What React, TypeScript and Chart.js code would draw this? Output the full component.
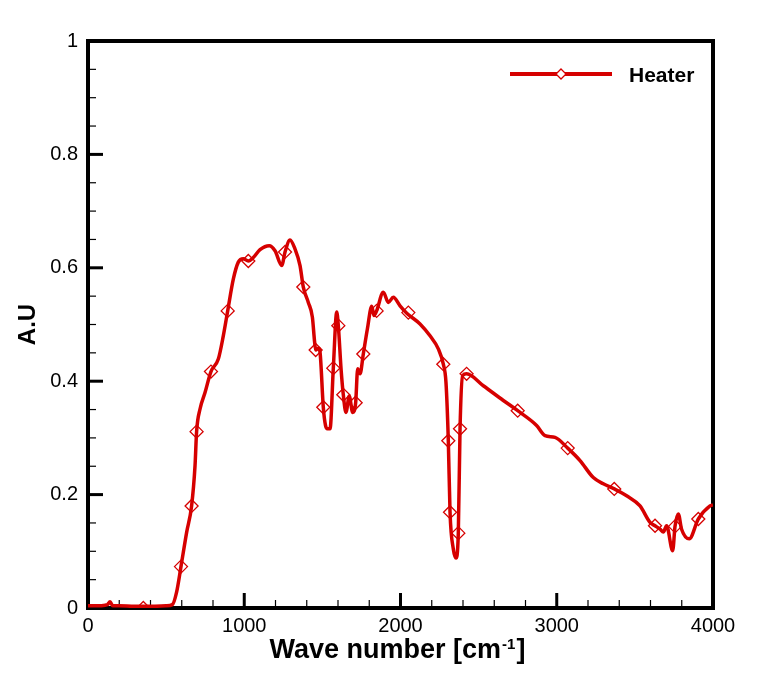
import React, { useEffect, useRef } from "react";
import { Chart, registerables } from "chart.js";

Chart.register(...registerables);

// Curve: wave number [cm^-1] and absorbance (A.U)
const waveNumber = [
  0, 60, 110, 125, 141, 158, 200, 300, 400, 500, 540, 567, 595, 631, 663, 685, 695, 717, 749, 787,
  834, 866, 894, 930, 962, 994, 1026, 1058, 1101, 1160, 1197, 1240, 1261, 1293, 1325, 1357, 1378,
  1410, 1436, 1450, 1457, 1475, 1485, 1506, 1520, 1532, 1549, 1570, 1592, 1602, 1620, 1634, 1651,
  1672, 1694, 1713, 1726, 1741, 1762, 1788, 1816, 1830, 1847, 1890, 1922, 1954, 1997, 2040, 2125,
  2189, 2242, 2274, 2291, 2306, 2317, 2338, 2355, 2370, 2381, 2398, 2423, 2530, 2658, 2750, 2871,
  2925, 2989, 3070, 3149, 3234, 3298, 3368, 3447, 3533, 3597, 3629, 3661, 3682, 3703, 3742, 3757,
  3778, 3799, 3848, 3906, 3981, 4000,
];
const absorbance = [
  0.004, 0.004, 0.005, 0.006, 0.011, 0.004, 0.004, 0.003, 0.003, 0.004, 0.006, 0.028, 0.073, 0.133,
  0.18, 0.251, 0.311, 0.351, 0.38, 0.417, 0.439, 0.48, 0.524, 0.58, 0.61, 0.616, 0.612, 0.618, 0.632,
  0.639, 0.63, 0.604, 0.628, 0.649, 0.633, 0.604, 0.566, 0.539, 0.513, 0.47, 0.455, 0.458, 0.451,
  0.354, 0.322, 0.316, 0.316, 0.423, 0.522, 0.498, 0.42, 0.376, 0.345, 0.374, 0.345, 0.362, 0.422,
  0.413, 0.448, 0.492, 0.532, 0.516, 0.524, 0.557, 0.539, 0.548, 0.533, 0.52, 0.501, 0.48, 0.457,
  0.43, 0.398, 0.295, 0.169, 0.104, 0.088, 0.132, 0.316, 0.41, 0.413, 0.392, 0.366, 0.348, 0.322,
  0.304, 0.301, 0.282, 0.26, 0.23, 0.219, 0.21, 0.198, 0.18, 0.151, 0.145, 0.139, 0.134, 0.145,
  0.101, 0.144, 0.166, 0.139, 0.122, 0.157, 0.18, 0.182,
];

// Diamond markers
const markerWave = [
  354, 595, 663, 695, 787, 894, 1026, 1261, 1378, 1457, 1506, 1570, 1602, 1634, 1713, 1762, 1847,
  2050, 2274, 2306, 2317, 2370, 2381, 2423, 2750, 3070, 3368, 3629, 3757, 3906,
];
const markerAbs = [
  0.0, 0.073, 0.18, 0.311, 0.417, 0.524, 0.612, 0.628, 0.566, 0.455, 0.354, 0.423, 0.498, 0.376,
  0.362, 0.448, 0.524, 0.521, 0.43, 0.295, 0.169, 0.132, 0.316, 0.413, 0.348, 0.282, 0.21, 0.145,
  0.144, 0.157,
];

const seriesName = "Heater";
const xTitle = "Wave number [cm";
const xTitleSup = "-1";
const yTitle = "A.U";

const RED = "rgb(214,0,0)";
const FONT = '"Liberation Sans", Arial, Helvetica, sans-serif';

const framePlugin = {
  id: "frame",
  beforeDatasetsDraw(chart: any) {
    const { ctx, chartArea: a, scales } = chart;
    const x = scales.x;
    const y = scales.y;
    ctx.save();
    ctx.strokeStyle = "#000";
    const seg = (x1: number, y1: number, x2: number, y2: number) => {
      ctx.beginPath();
      ctx.moveTo(x1, y1);
      ctx.lineTo(x2, y2);
      ctx.stroke();
    };
    for (let i = 0; i <= 20; i++) {
      const px = x.getPixelForValue(i * 200);
      const major = i % 5 === 0;
      ctx.lineWidth = major ? 3 : 1.2;
      seg(px, a.bottom, px, a.bottom - (major ? 15 : 8));
    }
    for (let i = 0; i <= 20; i++) {
      const py = y.getPixelForValue(i * 0.05);
      const major = i % 4 === 0;
      ctx.lineWidth = major ? 3 : 1.2;
      seg(a.left, py, a.left + (major ? 15 : 8), py);
    }
    ctx.lineWidth = 4;
    ctx.strokeRect(a.left, a.top, a.right - a.left, a.bottom - a.top);
    ctx.restore();
  },
  afterDraw(chart: any) {
    const { ctx, chartArea: a } = chart;
    ctx.save();
    ctx.fillStyle = "#000";
    // X title with superscript
    const mainFont = `bold 27px ${FONT}`;
    const supFont = `bold 15px ${FONT}`;
    ctx.font = mainFont;
    const w1 = ctx.measureText(xTitle).width;
    const w3 = ctx.measureText("]").width;
    ctx.font = supFont;
    const w2 = ctx.measureText(xTitleSup).width;
    const total = w1 + w2 + w3 + 2;
    const cx = (a.left + a.right) / 2 - 3;
    let sx = cx - total / 2;
    const base = 658;
    ctx.textBaseline = "alphabetic";
    ctx.textAlign = "left";
    ctx.font = mainFont;
    ctx.fillText(xTitle, sx, base);
    sx += w1 + 1;
    ctx.font = supFont;
    ctx.fillText(xTitleSup, sx, base - 9);
    sx += w2 + 1;
    ctx.font = mainFont;
    ctx.fillText("]", sx, base);

    // Y title rotated
    ctx.save();
    ctx.translate(35, (a.top + a.bottom) / 2);
    ctx.rotate(-Math.PI / 2);
    ctx.font = `bold 24px ${FONT}`;
    ctx.textAlign = "center";
    ctx.textBaseline = "alphabetic";
    ctx.fillText(yTitle, 0, 0);
    ctx.restore();

    // Legend
    const ly = 74;
    ctx.strokeStyle = RED;
    ctx.lineWidth = 4;
    ctx.beginPath();
    ctx.moveTo(510, ly);
    ctx.lineTo(612, ly);
    ctx.stroke();
    const dx = 561;
    const r = 5;
    ctx.beginPath();
    ctx.moveTo(dx, ly - r);
    ctx.lineTo(dx + r, ly);
    ctx.lineTo(dx, ly + r);
    ctx.lineTo(dx - r, ly);
    ctx.closePath();
    ctx.fillStyle = "#fff";
    ctx.fill();
    ctx.lineWidth = 1.3;
    ctx.stroke();
    ctx.fillStyle = "#000";
    ctx.font = `bold 21px ${FONT}`;
    ctx.textAlign = "left";
    ctx.textBaseline = "alphabetic";
    ctx.fillText(seriesName, 629, 82);
    ctx.restore();
  },
};

export default function App() {
  const ref = useRef<HTMLCanvasElement | null>(null);

  useEffect(() => {
    if (!ref.current) return;
    const curve = waveNumber.map((w, i) => ({ x: w, y: absorbance[i] }));
    const markers = markerWave.map((w, i) => ({ x: w, y: markerAbs[i] }));
    const chart = new Chart(ref.current, {
      type: "scatter",
      data: {
        datasets: [
          {
            label: seriesName,
            data: curve,
            showLine: true,
            borderColor: RED,
            borderWidth: 3.5,
            pointRadius: 0,
            cubicInterpolationMode: "monotone",
          },
          {
            label: seriesName + " markers",
            data: markers,
            showLine: false,
            pointStyle: "rectRot",
            pointRadius: 6.5,
            borderColor: RED,
            borderWidth: 1.3,
            pointBackgroundColor: "rgba(0,0,0,0)",
            backgroundColor: "rgba(0,0,0,0)",
          },
        ],
      },
      options: {
        animation: false,
        responsive: true,
        maintainAspectRatio: false,
        layout: { padding: { top: 41, right: 71, left: 0, bottom: 0 } },
        plugins: {
          legend: { display: false },
          tooltip: { enabled: false },
        },
        scales: {
          x: {
            type: "linear",
            min: 0,
            max: 4000,
            afterFit: (s: any) => {
              s.height = 65;
            },
            grid: { display: false, drawTicks: false },
            border: { display: false },
            ticks: {
              stepSize: 1000,
              padding: 6,
              color: "#000",
              font: { family: FONT, size: 20 },
              callback: (v: any) => String(v),
              maxRotation: 0,
            },
          },
          y: {
            type: "linear",
            min: 0,
            max: 1,
            afterFit: (s: any) => {
              s.width = 88;
            },
            grid: { display: false, drawTicks: false },
            border: { display: false },
            ticks: {
              stepSize: 0.2,
              padding: 10,
              color: "#000",
              font: { family: FONT, size: 20 },
              callback: (v: any) => String(Math.round(Number(v) * 10) / 10),
            },
          },
        },
      },
      plugins: [framePlugin],
    });
    return () => chart.destroy();
  }, []);

  return (
    <div style={{ position: "absolute", left: 0, top: 0, width: 784, height: 673, background: "#fff" }}>
      <canvas ref={ref} />
    </div>
  );
}
